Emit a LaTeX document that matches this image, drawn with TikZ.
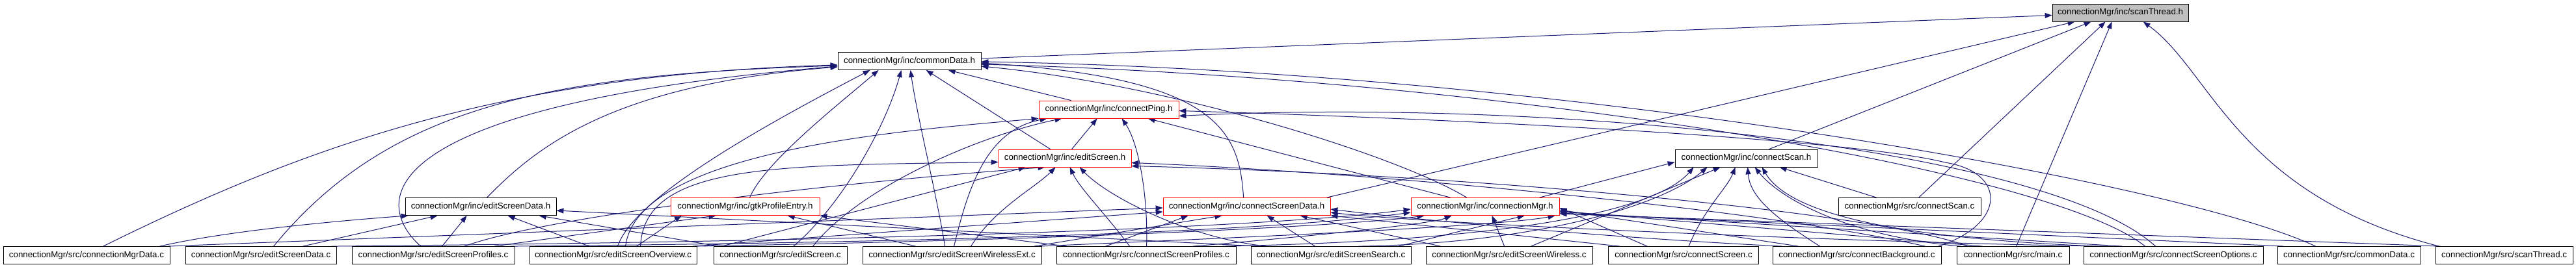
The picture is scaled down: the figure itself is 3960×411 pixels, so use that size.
\documentclass[tikz,border=0pt]{standalone}
\usepackage{fontspec}
\setmainfont{Liberation Sans}
\usetikzlibrary{arrows.meta}
\definecolor{edgeblue}{HTML}{191970}
\pgfdeclarelayer{edgelayer}
\pgfsetlayers{edgelayer,main}
\tikzset{
  file/.style={draw=black, line width=0.8pt, minimum height=27pt, inner sep=0pt, fill=white, font=\fontsize{13.3}{15}\selectfont},
  redfile/.style={file, draw=red},
  incl/.style={draw=edgeblue, line width=1pt, -{Triangle[length=11pt,width=8pt]}}
}
\begin{document}
\begin{tikzpicture}[x=1pt,y=-1pt]
\useasboundingbox (0,0) rectangle (3960,411);
% ---- headers
\node[file, fill=gray!50, minimum width=209pt] (sth) at (3259.5,19.5) {connectionMgr/inc/scanThread.h};
\node[file, minimum width=220pt] (cdh) at (1398,94) {connectionMgr/inc/commonData.h};
\node[redfile, minimum width=215pt] (cph) at (1704.5,168.5) {connectionMgr/inc/connectPing.h};
\node[redfile, minimum width=204pt] (esh) at (1637,243.5) {connectionMgr/inc/editScreen.h};
\node[file, minimum width=219pt] (csh) at (2684.5,243.5) {connectionMgr/inc/connectScan.h};
\node[file, minimum width=232pt] (esdh) at (739,318) {connectionMgr/inc/editScreenData.h};
\node[redfile, minimum width=229pt] (gpeh) at (1145.5,318) {connectionMgr/inc/gtkProfileEntry.h};
\node[redfile, minimum width=257pt] (csdh) at (1916.5,318) {connectionMgr/inc/connectScreenData.h};
\node[redfile, minimum width=228pt] (cmh) at (2283,318) {connectionMgr/inc/connectionMgr.h};
\node[file, minimum width=219pt] (cscan) at (2935.5,318) {connectionMgr/src/connectScan.c};
% ---- sources
\node[file, minimum width=256pt] (cmdc) at (133,393) {connectionMgr/src/connectionMgrData.c};
\node[file, minimum width=232pt] (esdc) at (401,393) {connectionMgr/src/editScreenData.c};
\node[file, minimum width=250pt] (espc) at (666,393) {connectionMgr/src/editScreenProfiles.c};
\node[file, minimum width=257pt] (esoc) at (942.5,393) {connectionMgr/src/editScreenOverview.c};
\node[file, minimum width=205pt] (escc) at (1199.5,393) {connectionMgr/src/editScreen.c};
\node[file, minimum width=275pt] (eswec) at (1463.5,393) {connectionMgr/src/editScreenWirelessExt.c};
\node[file, minimum width=276pt] (cspc) at (1762,393) {connectionMgr/src/connectScreenProfiles.c};
\node[file, minimum width=246pt] (essc) at (2046,393) {connectionMgr/src/editScreenSearch.c};
\node[file, minimum width=256pt] (eswc) at (2320,393) {connectionMgr/src/editScreenWireless.c};
\node[file, minimum width=231pt] (csc) at (2588,393) {connectionMgr/src/connectScreen.c};
\node[file, minimum width=259pt] (cbc) at (2854.5,393) {connectionMgr/src/connectBackground.c};
\node[file, minimum width=173pt] (mainc) at (3094.5,393) {connectionMgr/src/main.c};
\node[file, minimum width=276pt] (csoc) at (3341,393) {connectionMgr/src/connectScreenOptions.c};
\node[file, minimum width=220pt] (cdc) at (3611,393) {connectionMgr/src/commonData.c};
\node[file, minimum width=211pt] (stc) at (3849.5,393) {connectionMgr/src/scanThread.c};

\begin{pgfonlayer}{edgelayer}
% ---- into scanThread.h
\draw[incl] ([yshift=4pt]cdh.east) -- ([yshift=-4pt]sth.west);
\draw[incl] ([xshift=252pt]csdh.north west) -- ([xshift=35pt]sth.south west);
\draw[incl] ([xshift=145pt]csh.north west) -- ([xshift=60pt]sth.south west);
\draw[incl] ([xshift=124pt]cscan.north west) -- ([xshift=82pt]sth.south west);
\draw[incl] ([xshift=92pt]mainc.north west) -- ([xshift=92pt]sth.south west);
\draw[incl] ([xshift=6pt]stc.north west) .. controls (3440,300) and (3400,110) .. ([xshift=140pt]sth.south west);

% ---- into commonData.h
\draw[incl] ([xshift=154pt]cmdc.north west) .. controls (480,220) and (780,115) .. ([yshift=-6pt]cdh.west);
\draw[incl] ([xshift=136pt]esdc.north west) .. controls (600,160) and (850,115) .. ([yshift=-7pt]cdh.west);
\draw[incl] ([xshift=106pt]espc.north west) .. controls (560,300) and (600,160) .. ([yshift=-8pt]cdh.west);
\draw[incl] ([xshift=126pt]esdh.north west) .. controls (830,220) and (950,130) .. ([yshift=-9pt]cdh.west);
\draw[incl] ([xshift=136pt]esoc.north west) .. controls (975,300) and (1200,180) .. ([xshift=50pt]cdh.south west);
\draw[incl] ([xshift=122pt]gpeh.north west) .. controls (1175,250) and (1290,160) .. ([xshift=63pt]cdh.south west);
\draw[incl] ([xshift=123pt]escc.north west) .. controls (1290,320) and (1360,200) .. ([xshift=98pt]cdh.south west);
\draw[incl] ([xshift=127pt]eswec.north west) .. controls (1440,300) and (1410,180) .. ([xshift=112pt]cdh.south west);
\draw[incl] ([xshift=80pt]esh.north west) -- ([xshift=136pt]cdh.south west);
\draw[incl] ([xshift=50pt]cph.north west) -- ([xshift=170pt]cdh.south west);
\draw[incl] ([xshift=124pt]csdh.north west) .. controls (1905,200) and (1870,120) .. ([yshift=-3pt]cdh.east);
\draw[incl] ([xshift=86pt]cmh.north west) .. controls (2150,240) and (1800,130) .. ([yshift=-8pt]cdh.east);
\draw[incl] ([xshift=95pt]csoc.north west) .. controls (3150,260) and (2300,120) .. ([yshift=-5pt]cdh.east);
\draw[incl] ([xshift=59pt]cdc.north west) .. controls (3350,280) and (2400,110) .. ([yshift=-1pt]cdh.east);

% ---- into connectPing.h
\draw[incl] ([xshift=148pt]esoc.north west) .. controls (980,230) and (1400,200) .. (cph.south west);
\draw[incl] ([xshift=141pt]eswec.north west) .. controls (1490,280) and (1520,200) .. ([xshift=13pt]cph.south west);
\draw[incl] ([xshift=153pt]escc.north west) .. controls (1320,290) and (1500,210) .. ([xshift=36pt]cph.south west);
\draw[incl] ([xshift=113pt]esh.north west) -- ([xshift=90pt]cph.south west);
\draw[incl] ([xshift=139pt]cspc.north west) .. controls (1765,300) and (1750,220) .. ([xshift=128pt]cph.south west);
\draw[incl] ([xshift=61pt]cmh.north west) -- ([xshift=168pt]cph.south west);
\draw[incl] ([xshift=255pt]cbc.north west) .. controls (3085,345) and (3085,265) .. (2990,250) .. controls (2850,215) and (2300,185) .. ([yshift=-2pt]cph.east);
\draw[incl] ([xshift=111pt]csoc.north west) .. controls (3150,230) and (2400,150) .. ([yshift=-10pt]cph.east);

% ---- into editScreen.h
\draw[incl] ([xshift=171pt]esoc.north west) .. controls (990,250) and (1200,255) .. ([yshift=-6pt]esh.west);
\draw[incl] ([xshift=13pt]escc.north west) -- ([xshift=42pt]esh.south west);
\draw[incl] ([xshift=173pt]espc.north west) .. controls (850,330) and (1300,280) .. ([xshift=72pt]esh.south west);
\draw[incl] ([xshift=167pt]eswec.north west) .. controls (1530,320) and (1590,290) .. ([xshift=88pt]esh.south west);
\draw[incl] ([xshift=113pt]cspc.north west) .. controls (1700,330) and (1660,290) .. ([xshift=110pt]esh.south west);
\draw[incl] ([xshift=24pt]essc.north west) .. controls (1820,365) and (1700,300) .. ([xshift=125pt]esh.south west);
\draw[incl] ([xshift=235pt]cbc.north west) .. controls (2700,320) and (2100,265) .. ([yshift=-7pt]esh.east);
\draw[incl] ([xshift=17pt]mainc.north west) .. controls (2900,330) and (2300,270) .. ([yshift=-12pt]esh.east);

% ---- into connectScan.h
\draw[incl] ([xshift=198pt]cmh.north west) -- ([yshift=-6pt]csh.west);
\draw[incl] ([xshift=256pt]cspc.north west) .. controls (2350,370) and (2550,320) .. ([xshift=29pt]csh.south west);
\draw[incl] ([xshift=166pt]essc.north west) .. controls (2350,375) and (2550,320) .. ([xshift=50pt]csh.south west);
\draw[incl] ([xshift=162pt]eswc.north west) -- ([xshift=70pt]csh.south west);
\draw[incl] ([xshift=124pt]csc.north west) .. controls (2620,320) and (2655,290) .. ([xshift=93pt]csh.south west);
\draw[incl] ([xshift=73pt]cbc.north west) .. controls (2720,330) and (2690,300) .. ([xshift=112pt]csh.south west);
\draw[incl] ([xshift=7pt]mainc.north west) .. controls (2850,365) and (2740,310) .. ([xshift=123pt]csh.south west);
\draw[incl] ([xshift=22pt]csoc.north west) .. controls (3000,370) and (2760,345) .. ([xshift=134pt]csh.south west);
\draw[incl] ([xshift=59pt]cscan.north west) -- ([xshift=161pt]csh.south west);

% ---- into editScreenData.h
\draw[incl] ([xshift=241pt]cmdc.north west) .. controls (350,355) and (520,340) .. ([xshift=5pt]esdh.south west);
\draw[incl] ([xshift=181pt]esdc.north west) -- ([xshift=50pt]esdh.south west);
\draw[incl] ([xshift=139pt]espc.north west) -- ([xshift=95pt]esdh.south west);
\draw[incl] ([xshift=92pt]esoc.north west) -- ([xshift=158pt]esdh.south west);
\draw[incl] ([xshift=8pt]escc.north west) -- ([xshift=206pt]esdh.south west);
\draw[incl] ([xshift=12pt]essc.north west) -- ([yshift=-6pt]esdh.east);

% ---- into gtkProfileEntry.h
\draw[incl] ([xshift=165pt]esoc.north west) -- ([xshift=17pt]gpeh.south west);
\draw[incl] ([xshift=219pt]espc.north west) -- ([xshift=70pt]gpeh.south west);
\draw[incl] ([xshift=82pt]eswec.north west) -- ([xshift=180pt]gpeh.south west);
\draw[incl] ([xshift=16pt]cspc.north west) -- (gpeh.south east);

% ---- into connectScreenData.h
\draw[incl] ([xshift=253pt]cmdc.north west) -- ([yshift=-2pt]csdh.west);
\draw[incl] ([xshift=251pt]esoc.north west) -- ([yshift=-8pt]csdh.west);
\draw[incl] ([xshift=76pt]cspc.north west) -- ([xshift=39pt]csdh.south west);
\draw[incl] ([xshift=264pt]eswec.north west) -- ([xshift=91pt]csdh.south west);
\draw[incl] ([xshift=99pt]essc.north west) -- ([xshift=160pt]csdh.south west);
\draw[incl] ([xshift=23pt]eswc.north west) -- ([xshift=211pt]csdh.south west);
\draw[incl] ([xshift=18pt]csc.north west) -- (csdh.south east);
\draw[incl] ([xshift=15pt]cbc.north west) .. controls (2450,365) and (2150,335) .. ([yshift=-4pt]csdh.east);
\draw[incl] ([xshift=37pt]csoc.north west) .. controls (2900,375) and (2200,345) .. ([yshift=-9pt]csdh.east);

% ---- into connectionMgr.h
\draw[incl] ([xshift=225pt]esdc.north west) .. controls (1500,370) and (2000,345) .. ([yshift=-4pt]cmh.west);
\draw[incl] ([xshift=244pt]espc.north west) .. controls (1600,372) and (2000,350) .. ([yshift=-9pt]cmh.west);
\draw[incl] ([xshift=254pt]esoc.north west) .. controls (1700,368) and (2100,345) .. ([xshift=21pt]cmh.south west);
\draw[incl] ([xshift=210pt]cspc.north west) .. controls (2000,365) and (2200,345) .. ([xshift=63pt]cmh.south west);
\draw[incl] ([xshift=121pt]eswc.north west) -- ([xshift=125pt]cmh.south west);
\draw[incl] ([xshift=227pt]essc.north west) -- ([xshift=175pt]cmh.south west);
\draw[incl] ([xshift=272pt]eswec.north west) .. controls (1800,370) and (2300,350) .. ([xshift=222pt]cmh.south west);
\draw[incl] ([xshift=60pt]csc.north west) -- ([yshift=-2pt]cmh.east);
\draw[incl] ([xshift=40pt]cbc.north west) -- ([yshift=-5pt]cmh.east);
\draw[incl] ([xshift=40pt]mainc.north west) -- ([yshift=-7pt]cmh.east);
\draw[incl] ([xshift=60pt]csoc.north west) -- ([yshift=-8pt]cmh.east);
\draw[incl] ([xshift=10pt]cdc.north west) -- ([yshift=-10pt]cmh.east);
\draw[incl] ([xshift=8pt]stc.north west) -- ([yshift=-11pt]cmh.east);
\end{pgfonlayer}
\end{tikzpicture}
\end{document}
